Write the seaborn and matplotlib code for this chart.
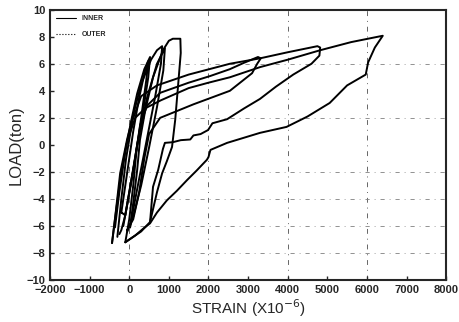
import numpy as np
import pandas as pd
import matplotlib
matplotlib.use("Agg")
import matplotlib.pyplot as plt
import seaborn as sns
from matplotlib.lines import Line2D

sns.set_style("ticks")
plt.rcParams['font.family'] = ['Liberation Sans', 'DejaVu Sans']

#----------------------------------
# hysteresis loops (strain x10^-6, load ton)
#----------------------------------
loop0_x = [-200, -50, 100, 250, 400, 480, 430, 300, 150, 0, -100, -200]
loop0_y = [-5.0, -2.0, 1.0, 3.5, 5.5, 6.2, 4.8, 2.0, -1.0, -3.5, -5.2, -5.0]

loopA_x = [-360, -250, -100, 50, 200, 380, 525, 480, 350, 200, 50, -100, -200, -250]
loopA_y = [-6.1, -3.5, -0.5, 1.8, 3.8, 5.6, 6.5, 5.0, 2.5, 0.0, -2.8, -5.2, -6.3, -6.6]

loopB_x = [-435, -350, -230, -55, 100, 300, 550, 700, 830, 800, 650, 450, 250, 100, 20]
loopB_y = [-7.26, -5.2, -2.1, 0.4, 2.2, 4.5, 6.3, 7.0, 7.3, 6.0, 3.5, 0.5, -2.5, -4.8, -6.1]

loopB2_x = [-150, 0, 200, 450, 700, 900, 860, 700, 500, 300, 100, -50]
loopB2_y = [-6.0, -3.5, 0.0, 3.5, 6.0, 7.15, 5.5, 2.8, -0.2, -3.0, -5.3, -6.4]

loopC_x = [20, 100, 200, 270, 400, 600, 850, 1000, 1100, 1290, 1300, 1230, 1160, 1080,
           950, 830, 700, 525, 300, -100]
loopC_y = [-6.1, -4.3, -1.85, 0.37, 2.5, 5.0, 7.0, 7.7, 7.85, 7.85, 6.8, 4.3, 1.85, -0.15,
           -1.2, -2.1, -3.5, -5.7, -6.4, -7.2]

loopD_x = [-100, 0, 100, 180, 280, 450, 780, 1500, 2050, 2540, 2880, 3250, 3320, 3230, 3100,
           2540, 1620, 780, 500, 380, 250, 100, -50]
loopD_y = [-7.2, -5.5, -3.0, -0.5, 1.5, 2.9, 3.85, 4.6, 5.1, 5.6, 6.05, 6.5, 6.4, 6.0, 5.3,
           4.0, 3.0, 2.0, 0.8, -1.0, -3.5, -5.5, -6.3]

loopE_x = [-300, -200, -80, 80, 300, 700, 1500, 2540, 3300, 4000, 4750, 4820, 4800, 4600, 4140,
           3700, 3300, 2900, 2470, 2100, 1990, 1800, 1620, 1540, 1300, 1100, 900, 850,
           730, 600, 525]
loopE_y = [-6.8, -4.0, -1.0, 1.8, 3.6, 4.4, 5.2, 6.0, 6.4, 6.85, 7.3, 7.2, 6.6, 6.0, 5.2,
           4.3, 3.4, 2.7, 1.9, 1.6, 1.1, 0.8, 0.7, 0.4, 0.35, 0.2, 0.15, -0.3,
           -1.85, -3.1, -5.7]

loopF_x = [-435, -330, -200, -50, 150, 400, 800, 1500, 2000, 2540, 3300, 4000, 4820, 5600,
           6400, 6200, 6030, 5970, 5500, 5060, 4500, 3970, 3300, 2470, 2050, 2000, 1960,
           1700, 1460, 1200, 950, 700, 525, 350, 150, -100]
loopF_y = [-7.26, -4.8, -2.0, 0.3, 2.0, 2.7, 3.3, 4.2, 4.6, 5.0, 5.75, 6.3, 7.0, 7.6,
           8.07, 7.2, 6.1, 5.2, 4.4, 3.1, 2.1, 1.33, 0.89, 0.15, -0.37, -0.9, -1.1,
           -1.9, -2.6, -3.4, -4.1, -5.0, -5.8, -6.2, -6.7, -7.2]

loops = {
    "L0": (loop0_x, loop0_y),
    "LA": (loopA_x, loopA_y),
    "LB": (loopB_x, loopB_y),
    "LB2": (loopB2_x, loopB2_y),
    "LC": (loopC_x, loopC_y),
    "LD": (loopD_x, loopD_y),
    "LE": (loopE_x, loopE_y),
    "LF": (loopF_x, loopF_y),
}

rows = []
for name, (xs, ys) in loops.items():
    for i, (xv, yv) in enumerate(zip(xs, ys)):
        rows.append({"loop": name, "step": i, "strain": xv, "load": yv})
df = pd.DataFrame(rows)

x_ticks = list(range(-2000, 8001, 1000))
y_ticks = list(range(-10, 11, 2))
grid_x = [0, 2000, 4000, 6000]
grid_y = [-8, -6, -4, -2, 2, 6]

#----------------------------------
# plot
#----------------------------------
fig, ax = plt.subplots(figsize=(4.59, 3.22), dpi=100)
fig.subplots_adjust(left=0.109, right=0.972, bottom=0.130, top=0.970)

for gx in grid_x:
    ax.axvline(gx, color="0.4", lw=0.7, ls=(0, (5, 5, 1, 5)), zorder=0)
for gy in grid_y:
    ax.axhline(gy, color="0.5", lw=0.6, ls=(0, (5, 6, 1, 6)), zorder=0)

sns.lineplot(data=df, x="strain", y="load", units="loop", estimator=None, sort=False,
             color="black", linewidth=1.4, ax=ax, legend=False)

ax.set_xlim(-2000, 8000)
ax.set_ylim(-10, 10)
ax.set_xticks(x_ticks)
ax.set_yticks(y_ticks)
ax.tick_params(direction="in", length=3, width=1, labelsize=8)
for lab in ax.get_xticklabels() + ax.get_yticklabels():
    lab.set_fontweight("bold")
for sp in ax.spines.values():
    sp.set_linewidth(1.5)
    sp.set_visible(True)

ax.set_xlabel("STRAIN (X10$^{-6}$)", fontsize=11, labelpad=2)
ax.set_ylabel("LOAD(ton)", fontsize=12, labelpad=2)

handles = [Line2D([], [], color="black", lw=0.8),
           Line2D([], [], color="black", lw=0.8, ls=":")]
ax.legend(handles, ["INNER", "OUTER"], loc="upper left", frameon=False,
          prop={"size": 5, "weight": "bold"}, handlelength=3, labelspacing=1.3,
          borderaxespad=0.4)

fig.savefig("out.png", dpi=100)
